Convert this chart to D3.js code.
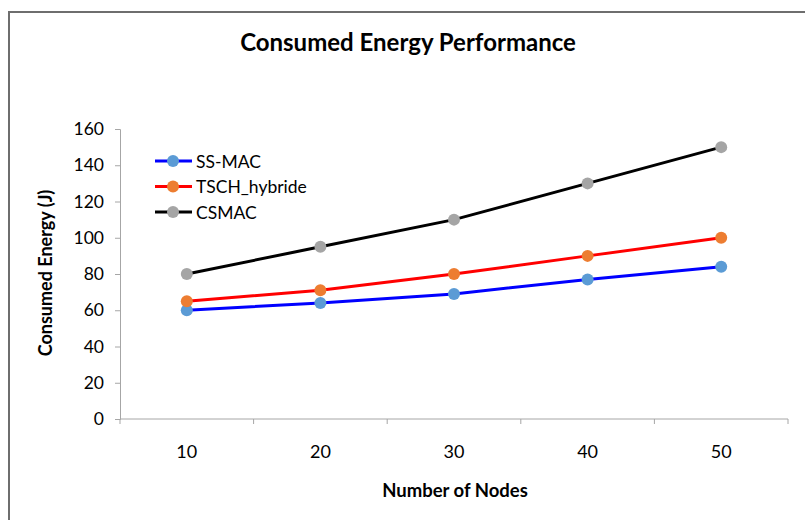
<!DOCTYPE html>
<meta charset="utf-8">
<head>
    <style>
        body {margin: 0; background-color: #ffffff;}
        text {font-family: Lato, "Open Sans", sans-serif; fill: #000;}
    </style>
    <title>Consumed Energy Performance</title>
</head>
<body>
    <script src="https://d3js.org/d3.v7.min.js"></script>
    <script>

    // data
    const nodes = ["10", "20", "30", "40", "50"];
    const ssMac = [60, 64, 69, 77, 84];
    const tschHybride = [65, 71, 80, 90, 100];
    const csmac = [80, 95, 110, 130, 150];
    const seriesNames = ["SS-MAC", "TSCH_hybride", "CSMAC"];
    const yTicks = [0, 20, 40, 60, 80, 100, 120, 140, 160];

    const width = 805, height = 520;
    const margin = {top: 129, right: 17, bottom: 101, left: 120};
    const plotW = width - margin.left - margin.right,
          plotH = height - margin.top - margin.bottom;

    const series = [
      {name: seriesNames[0], values: ssMac, line: "#0000ff", dot: "#5b9bd5"},
      {name: seriesNames[1], values: tschHybride, line: "#ff0000", dot: "#ed7d31"},
      {name: seriesNames[2], values: csmac, line: "#000000", dot: "#a5a5a5"}
    ];

    var svg = d3.select("body")
      .append("svg")
        .attr("width", width)
        .attr("height", height);

    // frame of the chart area (only left and top visible)
    svg.append("path")
      .attr("d", "M9,520 V12 H805")
      .attr("fill", "none")
      .attr("stroke", "#6e6e6e")
      .attr("stroke-width", 2);

    svg.append("text")
      .attr("x", 408)
      .attr("y", 51)
      .attr("text-anchor", "middle")
      .style("font-size", "24px")
      .style("font-weight", "bold")
      .text("Consumed Energy Performance");

    var g = svg.append("g")
      .attr("transform", "translate(" + margin.left + "," + margin.top + ")");

    var xScale = d3.scaleBand()
      .domain(nodes)
      .range([0, plotW]);

    var yScale = d3.scaleLinear()
      .domain([0, 160])
      .range([plotH, 0]);

    // y axis
    var yAxis = g.append("g")
      .call(d3.axisLeft(yScale).tickValues(yTicks).tickSize(5).tickPadding(11));
    yAxis.select(".domain").attr("stroke", "#a6a6a6");
    yAxis.selectAll(".tick line").attr("stroke", "#a6a6a6");
    yAxis.selectAll(".tick text").style("font-size", "17.5px").style("font-family", "Lato, sans-serif");

    // x axis with ticks at band edges
    var xAxis = g.append("g")
      .attr("transform", "translate(0," + plotH + ")");
    xAxis.append("line")
      .attr("x1", 0).attr("x2", plotW)
      .attr("stroke", "#a6a6a6");
    var edges = nodes.map((d) => xScale(d)).concat([plotW]);
    xAxis.selectAll(".edge")
      .data(edges)
      .enter()
      .append("line")
        .attr("x1", (d) => d).attr("x2", (d) => d)
        .attr("y1", 0).attr("y2", 5)
        .attr("stroke", "#a6a6a6");
    xAxis.selectAll(".lbl")
      .data(nodes)
      .enter()
      .append("text")
        .attr("x", (d) => xScale(d) + xScale.bandwidth() / 2)
        .attr("y", 39)
        .attr("text-anchor", "middle")
        .style("font-size", "18px")
        .text((d) => d);

    // axis titles
    svg.append("text")
      .attr("x", 455)
      .attr("y", 497)
      .attr("text-anchor", "middle")
      .style("font-size", "18.5px")
      .style("font-weight", "bold")
      .text("Number of Nodes");

    svg.append("text")
      .attr("transform", "translate(52,273) rotate(-90)")
      .attr("text-anchor", "middle")
      .style("font-size", "18px")
      .style("font-weight", "bold")
      .text("Consumed Energy (J)");

    var line = d3.line()
      .x((d, i) => xScale(nodes[i]) + xScale.bandwidth() / 2)
      .y((d) => yScale(d));

    series.forEach(function (s) {
      g.append("path")
        .datum(s.values)
        .attr("d", line)
        .attr("fill", "none")
        .attr("stroke", s.line)
        .attr("stroke-width", 3);

      g.selectAll(null)
        .data(s.values)
        .enter()
        .append("circle")
          .attr("cx", (d, i) => xScale(nodes[i]) + xScale.bandwidth() / 2)
          .attr("cy", (d) => yScale(d))
          .attr("r", 6)
          .attr("fill", s.dot);
    });

    // legend
    var legend = svg.append("g")
      .attr("transform", "translate(155,161)");
    var item = legend.selectAll("g")
      .data(series)
      .enter()
      .append("g")
        .attr("transform", (d, i) => "translate(0," + i * 25.5 + ")");
    item.append("line")
      .attr("x1", 0).attr("x2", 37)
      .attr("stroke", (d) => d.line)
      .attr("stroke-width", 3);
    item.append("circle")
      .attr("cx", 18)
      .attr("r", 6)
      .attr("fill", (d) => d.dot);
    item.append("text")
      .attr("x", 41)
      .attr("y", 6.5)
      .style("font-size", "17.5px")
      .text((d) => d.name);

    </script>
</body>
</html>
